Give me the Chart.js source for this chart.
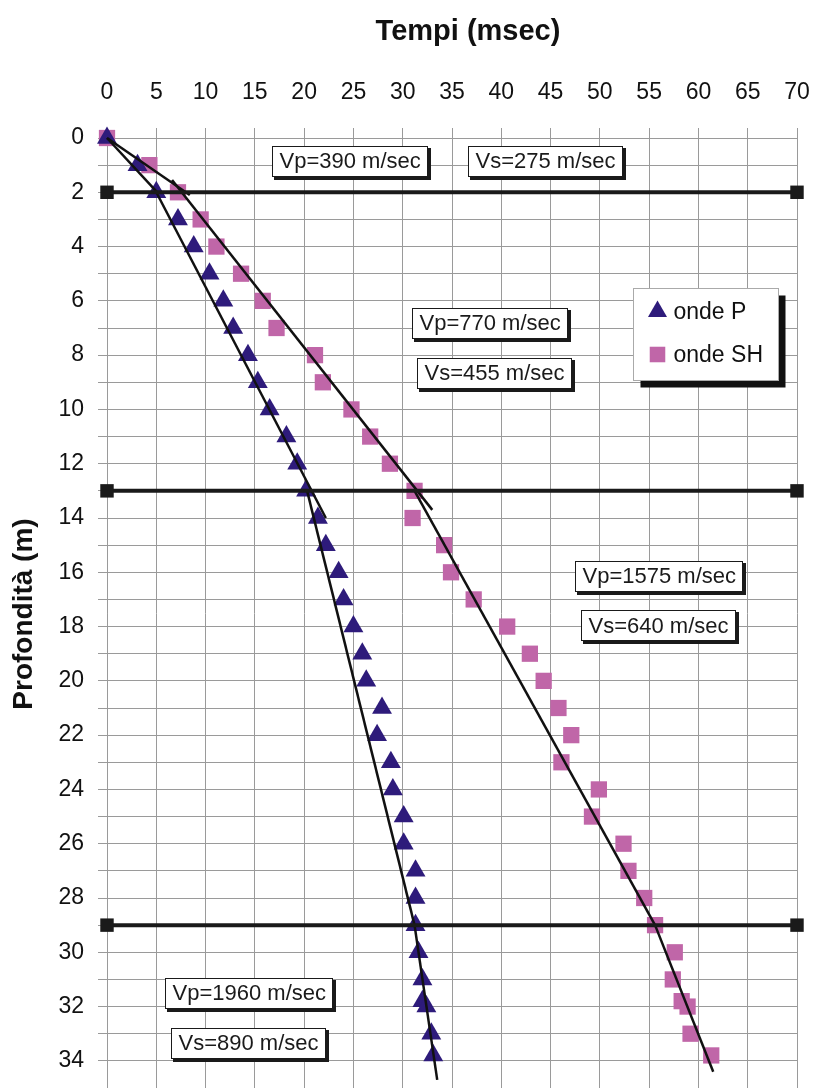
<!DOCTYPE html>
<html><head><meta charset="utf-8">
<script src="https://cdn.jsdelivr.net/npm/chart.js@4.4.1/dist/chart.umd.min.js"></script>
<style>html,body{margin:0;padding:0;background:#fff}#wrap{width:816px;height:1088px}</style>
</head><body><div id="wrap"><canvas id="c" width="816" height="1088"></canvas></div>
<script>
// ---- data ----
const depthP  = [0,1,2,3,4,5,6,7,8,9,10,11,12,13,14,15,16,17,18,19,20,21,22,23,24,25,26,27,28,29,30,31,31.8,32,33,33.8];
const timeP   = [0,3.1,5.0,7.2,8.8,10.4,11.8,12.8,14.3,15.3,16.5,18.2,19.3,20.2,21.4,22.2,23.5,24.0,25.0,25.9,26.3,27.9,27.4,28.8,29.0,30.1,30.1,31.3,31.3,31.3,31.6,32.0,32.0,32.4,32.9,33.1];
const depthSH = [0,1,2,3,4,5,6,7,8,9,10,11,12,13,14,15,16,17,18,19,20,21,22,23,24,25,26,27,28,29,30,31,31.8,32,33,33.8];
const timeSH  = [0,4.3,7.2,9.5,11.1,13.6,15.8,17.2,21.1,21.9,24.8,26.7,28.7,31.2,31.0,34.2,34.9,37.2,40.6,42.9,44.3,45.8,47.1,46.1,49.9,49.2,52.4,52.9,54.5,55.6,57.6,57.4,58.3,58.9,59.2,61.3];
// fitted segments: [time0, depth0, time1, depth1]
const fitSegmentsP  = [[0,0,5.1,2.0],[5.0,2.0,22.2,14.0],[20.3,13.0,31.2,29.0],[31.2,29.0,33.5,34.7]];
const fitSegmentsSH = [[0,0,8.4,2.1],[6.6,1.55,33.0,13.7],[31.2,13.0,55.6,29.0],[55.6,29.0,61.5,34.4]];
const layerDepths = [2,13,29];
const velocityLabels = ['Vp=390 m/sec','Vs=275 m/sec','Vp=770 m/sec','Vs=455 m/sec','Vp=1575 m/sec','Vs=640 m/sec','Vp=1960 m/sec','Vs=890 m/sec'];
const seriesNames = ['onde P','onde SH'];
const xTitle = 'Tempi (msec)';
const yTitle = 'Profondità (m)';

// ---- presentation ----
const FONT = '"Liberation Sans", Arial, Helvetica, sans-serif';
const colP = '#2E1B7B', colSH = '#C066A8';
const labelAnchors = [[16.75,0.85],[36.6,0.85],[30.9,6.8],[31.4,8.64],[47.5,16.12],[48.1,17.96],[5.9,31.5],[6.5,33.35]];
const legendAnchor = [53.4,5.53];

const pts = (xs, ys) => xs.map((v,i)=>({x:v, y:ys[i]}));
const datasets = [];
layerDepths.forEach(d => datasets.push({
  data:[{x:0,y:d},{x:70,y:d}], showLine:true, borderColor:'#1a1a1a', borderWidth:4,
  pointStyle:'rect', pointRadius:9.5, pointBackgroundColor:'#1a1a1a', pointBorderColor:'#1a1a1a', pointBorderWidth:0, clip:false
}));
[...fitSegmentsP, ...fitSegmentsSH].forEach(s => datasets.push({
  data:[{x:s[0],y:s[1]},{x:s[2],y:s[3]}], showLine:true, borderColor:'#111', borderWidth:2.5, pointRadius:0, clip:false
}));
datasets.push({label:seriesNames[0], data:pts(timeP, depthP), pointStyle:'triangle', pointRadius:11.5,
  pointBackgroundColor:colP, pointBorderColor:colP, pointBorderWidth:0, showLine:false, clip:false});
datasets.push({label:seriesNames[1], data:pts(timeSH, depthSH), pointStyle:'rect', pointRadius:11.5,
  pointBackgroundColor:colSH, pointBorderColor:colSH, pointBorderWidth:0, showLine:false, clip:false});

const decor = {
  id:'decor',
  afterDatasetsDraw(chart){
    const {ctx, scales:{x,y}} = chart;
    ctx.save();
    ctx.font = '22px ' + FONT;
    ctx.textBaseline = 'middle';
    velocityLabels.forEach((t,i)=>{
      const [ax,ay] = labelAnchors[i];
      const left = Math.round(x.getPixelForValue(ax)) + 0.5;
      const cy = y.getPixelForValue(ay);
      const w = Math.round(ctx.measureText(t).width + 14), h = 30;
      const top = Math.round(cy - h/2) + 0.5;
      ctx.fillStyle = '#1a1a1a'; ctx.fillRect(left+1.5, top+1.5, w+2, h+2);
      ctx.fillStyle = '#fff'; ctx.fillRect(left, top, w, h);
      ctx.strokeStyle = '#1a1a1a'; ctx.lineWidth = 1; ctx.strokeRect(left, top, w, h);
      ctx.fillStyle = '#1a1a1a'; ctx.fillText(t, left+7, cy+1);
    });
    // legend
    const lx = Math.round(x.getPixelForValue(legendAnchor[0])) + 0.5;
    const ly = Math.round(y.getPixelForValue(legendAnchor[1])) + 0.5;
    const lw = 145, lh = 92;
    ctx.fillStyle = '#111'; ctx.fillRect(lx+7, ly+7, lw, lh);
    ctx.fillStyle = '#fff'; ctx.fillRect(lx, ly, lw, lh);
    ctx.strokeStyle = '#aaa'; ctx.lineWidth = 1; ctx.strokeRect(lx, ly, lw, lh);
    ctx.font = '23px ' + FONT;
    const dsP = chart.data.datasets[chart.data.datasets.length-2];
    const dsS = chart.data.datasets[chart.data.datasets.length-1];
    [[dsP, 23],[dsS, 66]].forEach(([ds, off])=>{
      ctx.fillStyle = ds.pointBackgroundColor; ctx.strokeStyle = ds.pointBackgroundColor;
      Chart.helpers.drawPoint(ctx, {pointStyle: ds.pointStyle, radius: 11, borderWidth: 0}, lx+24, ly+off);
      ctx.fillStyle = '#111';
      ctx.fillText(ds.label, lx+40, ly+off+1);
    });
    ctx.restore();
  },
  afterDraw(chart){
    const {ctx} = chart;
    ctx.save();
    ctx.fillStyle = '#111';
    ctx.textAlign = 'center'; ctx.textBaseline = 'middle';
    ctx.font = 'bold 29px ' + FONT;
    ctx.fillText(xTitle, 468, 32);
    ctx.translate(24, 614); ctx.rotate(-Math.PI/2);
    ctx.font = 'bold 28px ' + FONT;
    ctx.fillText(yTitle, 0, 0);
    ctx.restore();
  }
};

new Chart(document.getElementById('c'), {
  type:'scatter',
  data:{datasets},
  options:{
    responsive:false, animation:false, devicePixelRatio:1,
    layout:{autoPadding:false, padding:{left:0,right:19,top:0,bottom:0}},
    plugins:{legend:{display:false}, tooltip:{enabled:false}},
    scales:{
      x:{type:'linear', position:'top', min:0, max:70,
         ticks:{stepSize:5, color:'#111', font:{size:23, family:FONT}, padding:22, maxRotation:0},
         grid:{color:'#9a9a9a', lineWidth:1, tickLength:10},
         border:{color:'#9a9a9a'},
         afterFit(s){ s.height = 138; s.paddingLeft = 0; s.paddingRight = 0; }},
      y:{type:'linear', reverse:true, min:0, max:35,
         ticks:{stepSize:1, autoSkip:false, color:'#111', font:{size:23, family:FONT}, padding:14,
                callback:v => (v % 2 === 0 ? String(v) : '')},
         grid:{color:'#9a9a9a', lineWidth:1, tickLength:9},
         border:{color:'#9a9a9a'},
         afterFit(s){ s.width = 107; s.paddingTop = 0; s.paddingBottom = 0; }}
    }
  },
  plugins:[decor]
});
</script></body></html>
